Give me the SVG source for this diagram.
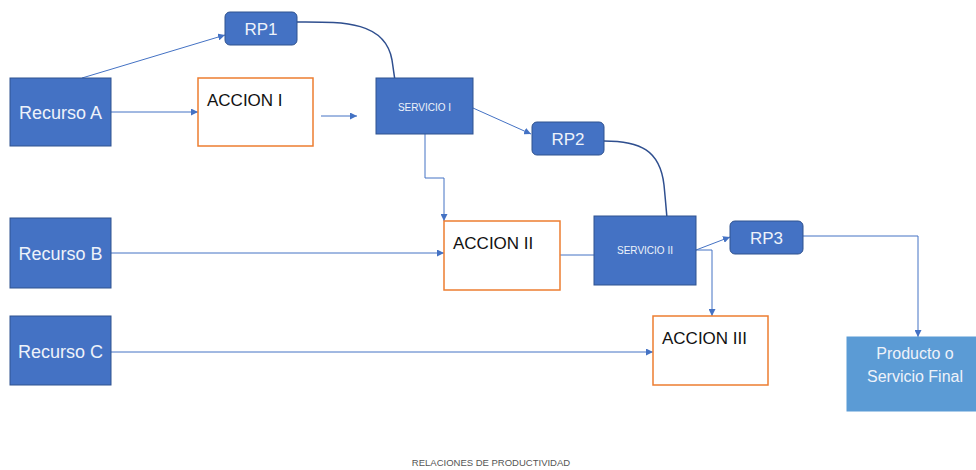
<svg xmlns="http://www.w3.org/2000/svg" width="976" height="470" viewBox="0 0 976 470">
<style>
.n{fill:#4472C4;stroke:#2F528F;stroke-width:1}
.p{fill:#5B9BD5;stroke:#5B9BD5}
.a{fill:#fff;stroke:#ED7D31;stroke-width:1.5}
.t{font-family:"Liberation Sans",Arial,sans-serif;fill:#EEF2FA}
.k{font-family:"Liberation Sans",Arial,sans-serif;fill:#111}
.c{fill:none;stroke:#4472C4;stroke-width:1}
.d{fill:none;stroke:#2F4F8F;stroke-width:1.5}
</style>
<defs>
<marker id="ar" viewBox="0 0 10 10" refX="10" refY="5" markerWidth="7" markerHeight="7" markerUnits="userSpaceOnUse" orient="auto">
<path d="M0,0 L10,5 L0,10 z" fill="#4472C4"/>
</marker>
</defs>
<rect width="976" height="470" fill="#fff"/>
<g id="connectors">
<line class="c" x1="82" y1="78" x2="225" y2="35" marker-end="url(#ar)"/>
<line class="c" x1="111" y1="112" x2="198" y2="112" marker-end="url(#ar)"/>
<line class="c" x1="321" y1="116" x2="357" y2="116" marker-end="url(#ar)"/>
<path class="d" d="M297,22 C340,22 385,20 392,60 C395,80 396,90 398,97"/>
<line class="c" x1="473" y1="108" x2="531" y2="134" marker-end="url(#ar)"/>
<polyline class="c" points="425,134 425,178 444,178 444,221" marker-end="url(#ar)"/>
<path class="d" d="M604,141 C640,141 660,150 664,185 C666,205 667,220 668,228"/>
<line class="c" x1="111" y1="253" x2="444" y2="253" marker-end="url(#ar)"/>
<line class="c" x1="560" y1="255" x2="594" y2="255"/>
<line class="c" x1="696" y1="250" x2="730" y2="237" marker-end="url(#ar)"/>
<polyline class="c" points="696,250 712,250 712,316" marker-end="url(#ar)"/>
<line class="c" x1="111" y1="352" x2="653" y2="352" marker-end="url(#ar)"/>
<polyline class="c" points="803,236 918,236 918,337" marker-end="url(#ar)"/>
</g>
<g id="recursoA"><rect class="n" x="10" y="78" width="101" height="68"/><text class="t" x="60.5" y="119" font-size="18" text-anchor="middle">Recurso A</text></g>
<g id="recursoB"><rect class="n" x="10" y="218" width="101" height="70"/><text class="t" x="60.5" y="260" font-size="18" text-anchor="middle">Recurso B</text></g>
<g id="recursoC"><rect class="n" x="10" y="316" width="101" height="69"/><text class="t" x="60.5" y="358" font-size="18" text-anchor="middle">Recurso C</text></g>
<g id="rp1"><rect class="n" x="225" y="12" width="72" height="33" rx="5"/><text class="t" x="261" y="35" font-size="17" text-anchor="middle">RP1</text></g>
<g id="rp2"><rect class="n" x="532" y="122" width="72" height="33" rx="5"/><text class="t" x="568" y="145" font-size="17" text-anchor="middle">RP2</text></g>
<g id="rp3"><rect class="n" x="730" y="221" width="73" height="33" rx="5"/><text class="t" x="766.5" y="244" font-size="17" text-anchor="middle">RP3</text></g>
<g id="accion1"><rect class="a" x="198" y="78" width="115" height="68"/><text class="k" x="207" y="106" font-size="17">ACCION I</text></g>
<g id="accion2"><rect class="a" x="444" y="221" width="116" height="69"/><text class="k" x="453" y="249" font-size="17">ACCION II</text></g>
<g id="accion3"><rect class="a" x="653" y="316" width="115" height="69"/><text class="k" x="662" y="344" font-size="17">ACCION III</text></g>
<g id="servicio1"><rect class="n" x="376" y="78" width="97" height="56"/><text class="t" x="424.5" y="111" font-size="10" text-anchor="middle">SERVICIO I</text></g>
<g id="servicio2"><rect class="n" x="594" y="216" width="102" height="69"/><text class="t" x="645" y="254" font-size="10" text-anchor="middle">SERVICIO II</text></g>
<g id="producto"><rect class="p" x="847" y="337" width="129" height="74"/><text class="t" x="915" y="359" font-size="16" text-anchor="middle">Producto o</text><text class="t" x="915" y="382" font-size="16" text-anchor="middle">Servicio Final</text></g>
<text x="491" y="466" font-family="Liberation Sans,Arial,sans-serif" font-size="9.5" fill="#555" text-anchor="middle">RELACIONES DE PRODUCTIVIDAD</text>
</svg>
